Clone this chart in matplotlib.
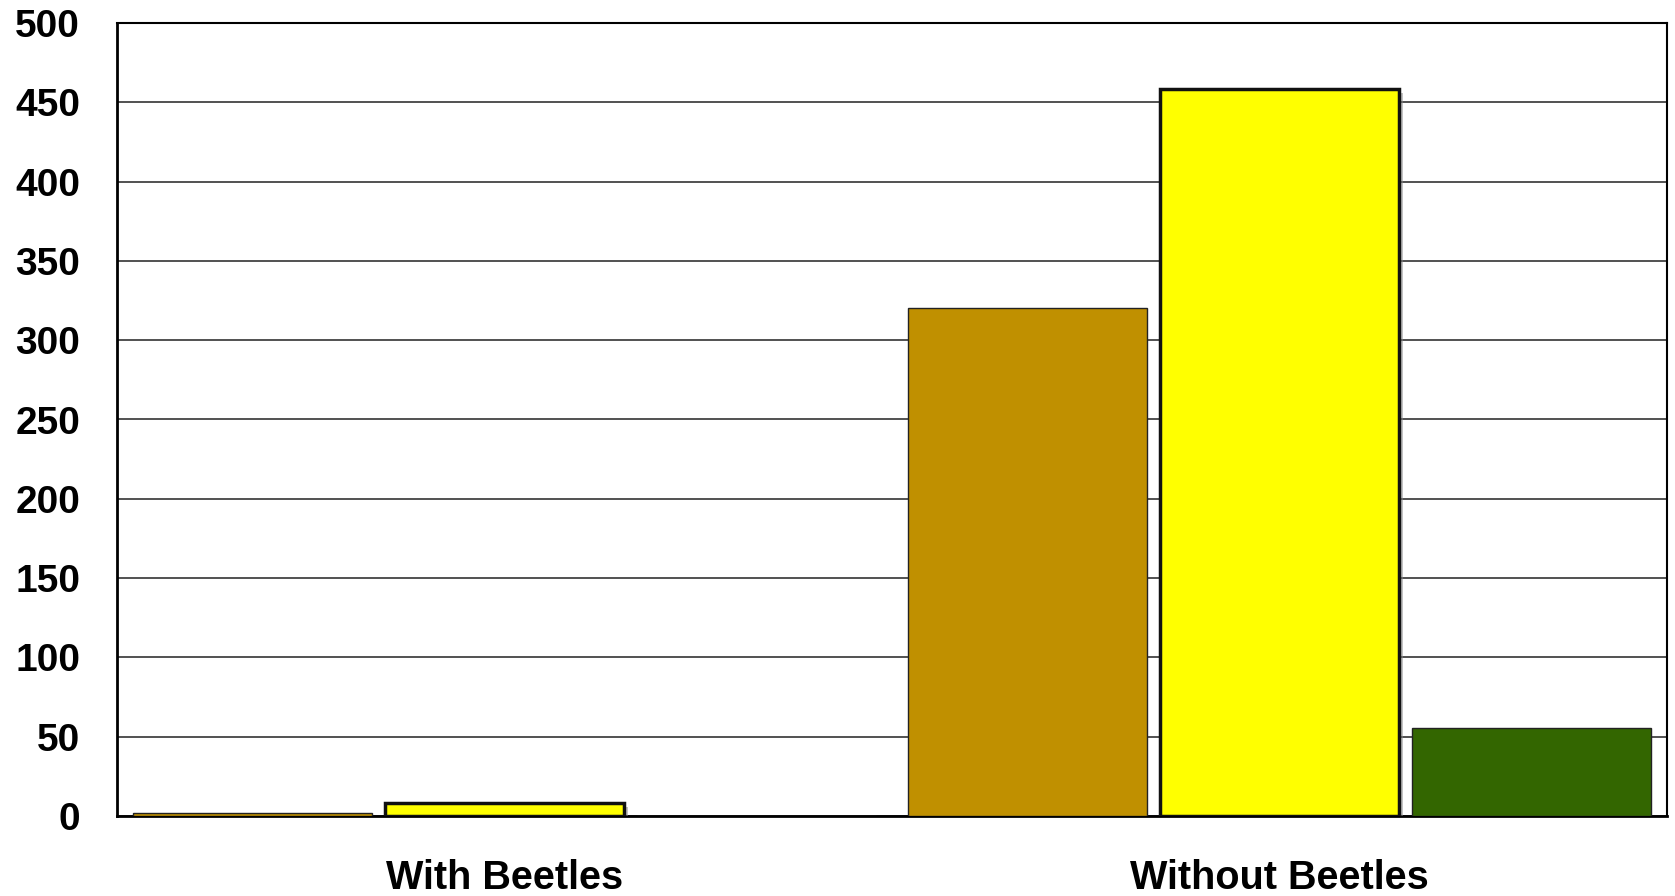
import matplotlib
matplotlib.use("Agg")
import matplotlib.pyplot as plt
import matplotlib.patheffects as pe
import numpy as np

categories = ["With Beetles", "Without Beetles"]
series_brown = [1.7, 320.5]
series_yellow = [8.0, 458.2]
series_green = [0.0, 55.3]
y_ticks = [0, 50, 100, 150, 200, 250, 300, 350, 400, 450, 500]

plt.rcParams['font.family'] = ['Liberation Sans', 'DejaVu Sans']

fig = plt.figure(figsize=(16.75, 8.96), dpi=100)
ax = fig.add_axes([117/1675, 1 - 816/896, 1550/1675, 793/896])

x = np.arange(len(categories))
w = 0.308
off = 0.325

shadow = [pe.SimplePatchShadow(offset=(3, -3), shadow_rgbFace='#888888', alpha=0.5), pe.Normal()]

ax.bar(x - off, series_brown, width=w, color='#C09000', edgecolor='#222222', linewidth=1.0, zorder=3)
ax.bar(x, series_yellow, width=w, color='#FFFF00', edgecolor='#111111', linewidth=2.5, zorder=3,
       path_effects=shadow)
ax.bar(x + off, series_green, width=w, color='#336600', edgecolor='#222222', linewidth=1.0, zorder=3)

ax.set_xlim(-0.5, 1.5)
ax.set_ylim(0, 500)
ax.set_yticks(y_ticks)
ax.set_yticklabels([str(v) for v in y_ticks], fontsize=28, fontweight='bold')
ax.set_xticks(x)
ax.set_xticklabels(categories, fontsize=28.5, fontweight='bold')
ax.tick_params(axis='y', length=0, pad=26.5)
ax.tick_params(axis='x', length=0, pad=31)
ax.yaxis.grid(True, color='#333333', linewidth=1.2, zorder=0)
ax.set_axisbelow(True)
for s in ['left', 'bottom']:
    ax.spines[s].set_linewidth(2.0)
for s in ['top', 'right']:
    ax.spines[s].set_linewidth(1.5)

fig.savefig("out.png", dpi=100, facecolor='white')
